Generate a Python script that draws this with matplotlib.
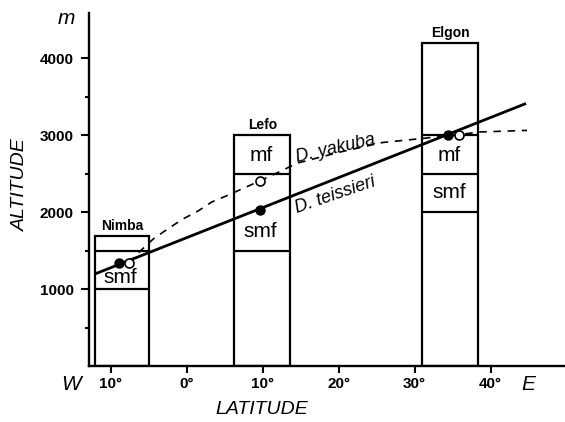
import numpy as np
import matplotlib
matplotlib.use("Agg")
import matplotlib.pyplot as plt
from matplotlib.patches import Rectangle

plt.rcParams['font.family'] = ['Liberation Sans', 'DejaVu Sans']

# mountains (boxes span 0 .. top altitude)
sites = ['Nimba', 'Lefo', 'Elgon']
box_left = [-12.0, 6.3, 31.0]
box_right = [-5.0, 13.6, 38.4]
box_top = [1690, 3000, 4200]
box_lines = [[1000, 1500], [1500, 2500], [2000, 2500, 3000]]

# vegetation belt labels
zone_text = [['smf'], ['mf', 'smf'], ['mf', 'smf']]
zone_alt = [[1150], [2730, 1750], [2740, 2250]]

# D. teissieri regression line and points
teis_x = [-11.85, 44.5]
teis_y = [1204, 3403]
teis_pt_x = [-8.9, 9.6, 34.4]
teis_pt_y = [1333, 2026, 3000]

# D. yakuba curve and points
yak_x = [-7.6, -6.1, -4.4, -2.5, -0.5, 1.5, 3.3, 5.2, 9.6, 11.6, 14.6,
         20.2, 25.8, 30.0, 35.8, 38.6, 44.8]
yak_y = [1338, 1494, 1649, 1779, 1909, 2013, 2130, 2208, 2403, 2494, 2636,
         2779, 2903, 2945, 3005, 3040, 3060]
yak_pt_x = [-7.55, 9.6, 35.9]
yak_pt_y = [1333, 2400, 3000]

xticks = [-10, 0, 10, 20, 30, 40]
xlabels = ['10°', '0°', '10°', '20°', '30°', '40°']
yticks = [1000, 2000, 3000, 4000]
yminor = [500, 1500, 2500, 3500]

fig = plt.figure(figsize=(5.65, 4.22), dpi=100)
ax = fig.add_axes([89/565, 56/422, 476/565, 353/422])

for i, s in enumerate(sites):
    l, r, t = box_left[i], box_right[i], box_top[i]
    ax.add_patch(Rectangle((l, 0), r - l, t, fill=False, lw=1.6, ec='black', zorder=2))
    ax.hlines(box_lines[i], l, r, colors='black', lw=1.6, zorder=2)
    ax.text((l + r) / 2, t + 40, s, ha='center', va='bottom', fontsize=10, fontweight='bold')
    for txt, a in zip(zone_text[i], zone_alt[i]):
        ax.text((l + r) / 2 - 0.2, a, txt, ha='center', va='center', fontsize=15)

ax.plot(teis_x, teis_y, color='black', lw=2.0, zorder=3)
ax.plot(yak_x, yak_y, color='black', lw=1.2, ls=(0, (4.5, 4)), zorder=3)
ax.plot(teis_pt_x, teis_pt_y, 'o', color='black', ms=6.5, zorder=5)
ax.plot(yak_pt_x, yak_pt_y, 'o', mfc='white', mec='black', mew=1.2, ms=6.5, zorder=5)

ax.text(14.6, 2650, 'D. yakuba', style='italic', fontsize=13, rotation=13,
        rotation_mode='anchor', ha='left', va='baseline')
ax.text(14.5, 1990, 'D. teissieri', style='italic', fontsize=13, rotation=19,
        rotation_mode='anchor', ha='left', va='baseline')

ax.set_xlim(-12.85, 49.8)
ax.set_ylim(0, 4585)
ax.set_xticks(xticks)
ax.set_xticklabels(xlabels, fontweight='bold', fontsize=11)
ax.set_yticks(yticks)
ax.set_yticklabels([str(v) for v in yticks], fontweight='bold', fontsize=11)
ax.set_yticks(yminor, minor=True)
ax.tick_params(axis='y', which='major', length=6, width=1.5, pad=5)
ax.tick_params(axis='y', which='minor', length=3, width=1.5)
ax.tick_params(axis='x', which='major', length=5, width=1.5, pad=3)
for sp in ['top', 'right']:
    ax.spines[sp].set_visible(False)
for sp in ['left', 'bottom']:
    ax.spines[sp].set_linewidth(1.7)

fig.text(262/565, 1 - 410/422, 'LATITUDE', style='italic', fontsize=14, ha='center', va='center')
fig.text(20/565, 1 - 185/422, 'ALTITUDE', style='italic', fontsize=14, rotation=90, ha='center', va='center')
fig.text(71/565, 1 - 384/422, 'W', style='italic', fontsize=15, ha='center', va='center')
fig.text(528/565, 1 - 384/422, 'E', style='italic', fontsize=15, ha='center', va='center')
fig.text(66/565, 1 - 18/422, 'm', style='italic', fontsize=15, ha='center', va='center')

fig.savefig('out.png', dpi=100)
